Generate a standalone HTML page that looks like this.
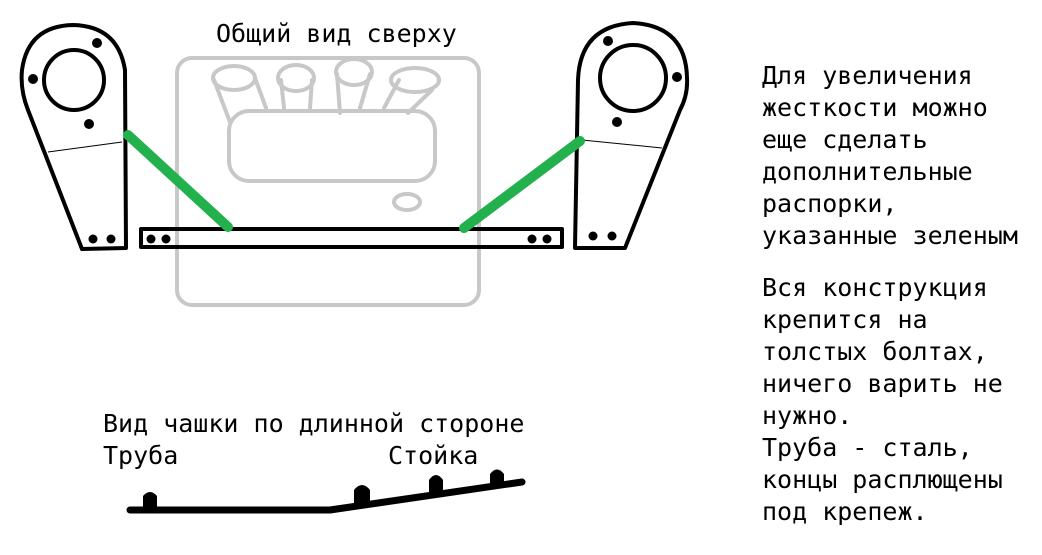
<!DOCTYPE html>
<html><head><meta charset="utf-8"><style>
html,body{margin:0;padding:0;background:#fff;width:1042px;height:555px;overflow:hidden}
.t{position:absolute;font-family:"DejaVu Sans Mono","Liberation Mono",monospace;font-size:25px;line-height:32px;color:#000;white-space:pre}
</style></head><body>
<svg width="1042" height="555" style="position:absolute;left:0;top:0">
<g fill="none" stroke="#c8c8c8" stroke-width="4" stroke-linecap="round">
<rect x="177" y="58" width="302" height="247" rx="15"/>
<rect x="229" y="111" width="206" height="70" rx="20"/>
<ellipse cx="234" cy="78" rx="21" ry="12"/>
<ellipse cx="296" cy="78" rx="18" ry="13"/>
<ellipse cx="354" cy="72" rx="18" ry="13"/>
<ellipse cx="415" cy="80" rx="24" ry="12"/>
<path d="M214 80 L230 122 M255 78 L266 108 M281 80 L284 108 M312 80 L310 108 M337 74 L340 113 M370 74 L360 108 M399 80 L384 108 M432 90 L408 113"/>
<ellipse cx="407" cy="202" rx="13" ry="8"/>
</g>
<g fill="none" stroke="#000" stroke-width="4" stroke-linecap="round" stroke-linejoin="round">
<path d="M82 249 L28 110 Q20 90 22 70 Q28 26 73 25 Q118 26 125 70 L126 248 L82 249"/>
<circle cx="74" cy="80" r="30"/>
<path d="M575 248 L578 80 Q580 26 633 23 Q686 26 687 78 Q688 95 680 110 L625 248 Z"/>
<circle cx="633" cy="78" r="33"/>
<rect x="141" y="229" width="421" height="18"/>
<path d="M130 510 L330 510 L522 482" stroke-width="7"/>
</g>
<g stroke="#000" stroke-width="1">
<line x1="48" y1="152" x2="122" y2="142"/><line x1="582" y1="140" x2="662" y2="148"/>
</g>
<g fill="#000">
<circle cx="97" cy="43" r="5"/><circle cx="33" cy="79" r="5"/><circle cx="89" cy="124" r="5"/>
<circle cx="93" cy="239" r="4.5"/><circle cx="111" cy="239" r="4.5"/>
<circle cx="608" cy="41" r="5"/><circle cx="677" cy="77" r="5"/><circle cx="617" cy="122" r="5"/>
<circle cx="593" cy="236" r="4.5"/><circle cx="612" cy="236" r="4.5"/>
<circle cx="151" cy="239" r="4.5"/><circle cx="166" cy="239" r="4.5"/><circle cx="532" cy="239" r="4.5"/><circle cx="547" cy="239" r="4.5"/>
<path d="M143 510 L143 496 Q150 488 157 496 L157 510Z"/>
<path d="M354 506 L354 490 Q362 480 370 490 L370 505Z"/>
<path d="M429 495 L429 480 Q436 470 443 480 L443 494Z"/>
<path d="M490 487 L490 474 Q497 465 504 474 L504 486Z"/>
</g>
<g stroke="#22b14c" stroke-width="10" stroke-linecap="round">
<line x1="128" y1="135" x2="228" y2="227"/>
<line x1="580" y1="141" x2="464" y2="228"/>
</g>
</svg>
<div class="t" style="left:216px;top:18px">Общий вид сверху</div>
<div class="t" style="left:762px;top:60px">Для увеличения
жесткости можно
еще сделать
дополнительные
распорки,
указанные зеленым</div>
<div class="t" style="left:762px;top:272px">Вся конструкция
крепится на
толстых болтах,
ничего варить не
нужно.
Труба - сталь,
концы расплющены
под крепеж.</div>
<div class="t" style="left:103px;top:408px">Вид чашки по длинной стороне</div>
<div class="t" style="left:103px;top:440px">Труба</div>
<div class="t" style="left:388px;top:440px">Стойка</div>
</body></html>
